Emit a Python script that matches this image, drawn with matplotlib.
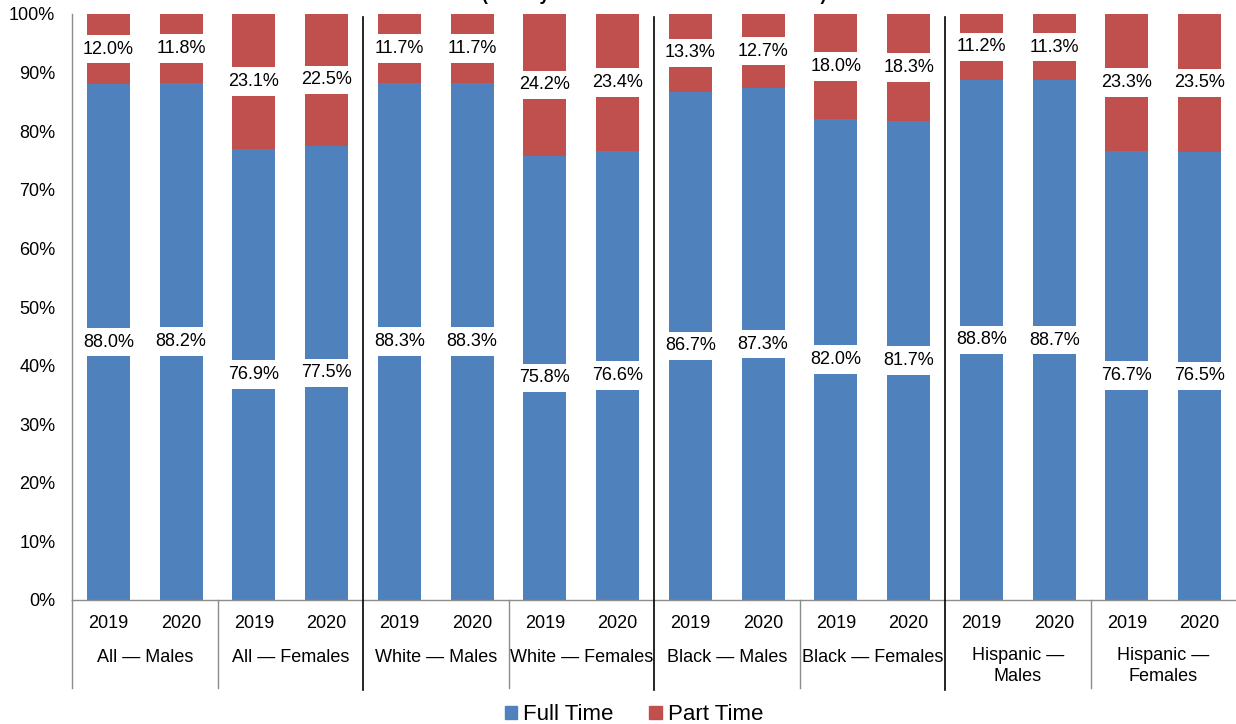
import matplotlib
matplotlib.use('Agg')
import matplotlib.pyplot as plt
from matplotlib.patches import Patch
import numpy as np

plt.rcParams['font.family'] = ['Liberation Sans', 'DejaVu Sans']

# --- data ---
groups = ['All — Males', 'All — Females', 'White — Males', 'White — Females',
          'Black — Males', 'Black — Females', 'Hispanic —\nMales', 'Hispanic —\nFemales']
years = ['2019', '2020']
full_time = [88.0, 88.2, 76.9, 77.5, 88.3, 88.3, 75.8, 76.6,
             86.7, 87.3, 82.0, 81.7, 88.8, 88.7, 76.7, 76.5]
part_time = [12.0, 11.8, 23.1, 22.5, 11.7, 11.7, 24.2, 23.4,
             13.3, 12.7, 18.0, 18.3, 11.2, 11.3, 23.3, 23.5]

blue = '#4F81BD'
red = '#C0504D'

W, H = 1236, 724
fig = plt.figure(figsize=(W / 100, H / 100), dpi=100)
ax = fig.add_axes([72 / W, (H - 600) / H, (W - 72) / W, 586 / H])

n = len(full_time)
x = np.arange(n) + 0.5
ft = np.array(full_time) / 100
pt = np.array(part_time) / 100
bw = 0.59

ax.bar(x, ft, bw, color=blue, zorder=2)
ax.bar(x, pt, bw, bottom=ft, color=red, zorder=2)

box = dict(boxstyle='square,pad=0.32', fc='white', ec='none')
for xi, f, p in zip(x, ft, pt):
    ax.text(xi, f / 2, f'{f * 100:.1f}%', ha='center', va='center',
            fontsize=13, bbox=box, zorder=3)
    ax.text(xi, f + p / 2, f'{p * 100:.1f}%', ha='center', va='center',
            fontsize=13, bbox=box, zorder=3)

ax.set_xlim(0, n)
ax.set_ylim(0, 1)
ax.set_yticks(np.arange(0, 1.01, 0.1))
ax.set_yticklabels([f'{int(round(v * 100))}%' for v in np.arange(0, 1.01, 0.1)], fontsize=13)
ax.tick_params(axis='y', length=0, pad=12)
ax.set_xticks([])
for s in ['top', 'right']:
    ax.spines[s].set_visible(False)
for s in ['left', 'bottom']:
    ax.spines[s].set_color('#8c8c8c')
    ax.spines[s].set_linewidth(1)

# multi-level category axis
tr = ax.get_xaxis_transform()
for i, xi in enumerate(x):
    ax.text(xi, -0.0405, years[i % 2], ha='center', va='center', fontsize=13, transform=tr)
for g, name in enumerate(groups):
    yc = -0.1126 if '\n' in name else -0.0975
    ax.text(2 * g + 1, yc, name, ha='center', va='center', fontsize=13,
            linespacing=1.25, transform=tr)

for xs in range(0, n, 2):
    if xs % 4 == 0 and xs > 0:
        ax.plot([xs, xs], [0.995, -0.154], color='black', lw=1.2, transform=tr,
                clip_on=False, zorder=4)
    else:
        ax.plot([xs, xs], [0, -0.150], color='#8c8c8c', lw=1, transform=tr,
                clip_on=False, zorder=4)

# title sits mostly above the canvas
fig.text(0.529, 1 + 0.5 / H, '(Weekly Hours: Full Time and Part Time)', ha='center',
         va='baseline', fontsize=13, fontweight='bold')

handles = [Patch(color=blue, label='Full Time'), Patch(color=red, label='Part Time')]
fig.legend(handles=handles, loc='center', bbox_to_anchor=(0.513, 0.013), ncol=2,
           frameon=False, fontsize=16, handlelength=0.55, handleheight=0.55,
           handletextpad=0.3, columnspacing=1.6)

fig.savefig('out.png', dpi=100)
